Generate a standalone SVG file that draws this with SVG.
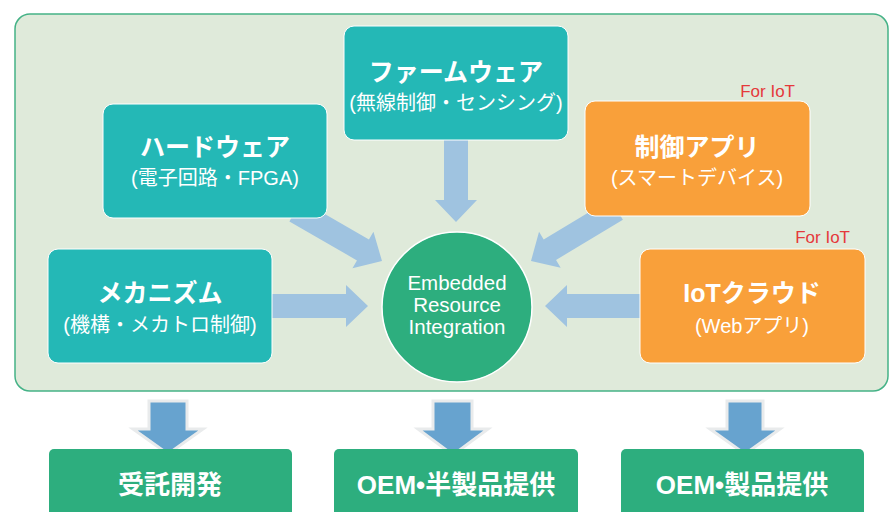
<svg xmlns="http://www.w3.org/2000/svg" width="890" height="512" viewBox="0 0 890 512">
<defs>
<style>
.panel{fill:#dfeada;stroke:#45b287;stroke-width:1.5}
.teal{fill:#24b8b6;stroke:#ffffff;stroke-width:1}
.orange{fill:#f9a03a;stroke:#ffffff;stroke-width:1}
.green{fill:#2dae7e}
.arrow{fill:#9fc3e0}
.barrow{fill:#67a3cf;stroke:#e9ebec;stroke-width:3;stroke-linejoin:miter}
.title{font-family:"Liberation Sans","Noto Sans CJK JP",sans-serif;font-size:25px;font-weight:bold;fill:#ffffff;text-anchor:middle}
.sub{font-family:"Liberation Sans","Noto Sans CJK JP",sans-serif;font-size:20px;fill:#ffffff;text-anchor:middle}
.iot{font-family:"Liberation Sans",sans-serif;font-size:17px;fill:#e5393b;text-anchor:end}
.circ{font-family:"Liberation Sans",sans-serif;font-size:20.5px;fill:#ffffff;text-anchor:middle}
.btext{font-family:"Liberation Sans","Noto Sans CJK JP",sans-serif;font-size:26px;font-weight:bold;fill:#ffffff;text-anchor:middle}
</style>
<polygon id="arr" points="-100,-12 -22,-12 -22,-21 0,0 -22,21 -22,12 -100,12"/>
</defs>
<rect class="panel" x="15" y="14" width="873" height="377" rx="15"/>
<g id="connectors">
<use href="#arr" class="arrow" transform="translate(382,261) rotate(30)"/>
<use href="#arr" class="arrow" transform="translate(531,261) rotate(149)"/>
<use href="#arr" class="arrow" transform="translate(456,222) rotate(90)"/>
<use href="#arr" class="arrow" transform="translate(368,306)"/>
<use href="#arr" class="arrow" transform="translate(545,306) rotate(180)"/>
<polygon class="barrow" points="149,401 187,401 187,429 203,429 168,454 133,429 149,429"/>
<polygon class="barrow" points="433,401 472,401 472,429 488,429 453,455 418,429 433,429"/>
<polygon class="barrow" points="727,401 763,401 763,429 780,429 745,454 710,429 727,429"/>
</g>
<g id="firmware">
<rect class="teal" x="344" y="26" width="224" height="114" rx="10"/>
<text class="title" x="456" y="81">ファームウェア</text>
<text class="sub" x="456" y="110">(無線制御・センシング)</text>
</g>
<g id="hardware">
<rect class="teal" x="103" y="104" width="224" height="114" rx="10"/>
<text class="title" x="215" y="156">ハードウェア</text>
<text class="sub" x="215" y="185">(電子回路・FPGA)</text>
</g>
<g id="control-app">
<text class="iot" x="795" y="97">For IoT</text>
<rect class="orange" x="585" y="101" width="225" height="115" rx="10"/>
<text class="title" x="697" y="156">制御アプリ</text>
<text class="sub" x="697" y="185">(スマートデバイス)</text>
</g>
<g id="mechanism">
<rect class="teal" x="48" y="249" width="224" height="114" rx="10"/>
<text class="title" x="160" y="302">メカニズム</text>
<text class="sub" x="160" y="332">(機構・メカトロ制御)</text>
</g>
<g id="iot-cloud">
<text class="iot" x="850" y="243">For IoT</text>
<rect class="orange" x="640" y="249" width="225" height="114" rx="10"/>
<text class="title" x="752" y="302">IoTクラウド</text>
<text class="sub" x="752" y="333">(Webアプリ)</text>
</g>
<g id="integration">
<circle class="green" cx="457" cy="307" r="75" stroke="#ffffff" stroke-width="1.5"/>
<text class="circ" x="457" y="290">Embedded</text>
<text class="circ" x="457" y="312">Resource</text>
<text class="circ" x="457" y="334">Integration</text>
</g>
<g id="contract">
<rect class="green" x="49" y="449" width="243" height="80" rx="5"/>
<text class="btext" x="170" y="494">受託開発</text>
</g>
<g id="oem-semi">
<rect class="green" x="334" y="449" width="244" height="80" rx="5"/>
<text class="btext" x="456" y="494">OEM•半製品提供</text>
</g>
<g id="oem-product">
<rect class="green" x="621" y="449" width="243" height="80" rx="5"/>
<text class="btext" x="742" y="494">OEM•製品提供</text>
</g>
</svg>
